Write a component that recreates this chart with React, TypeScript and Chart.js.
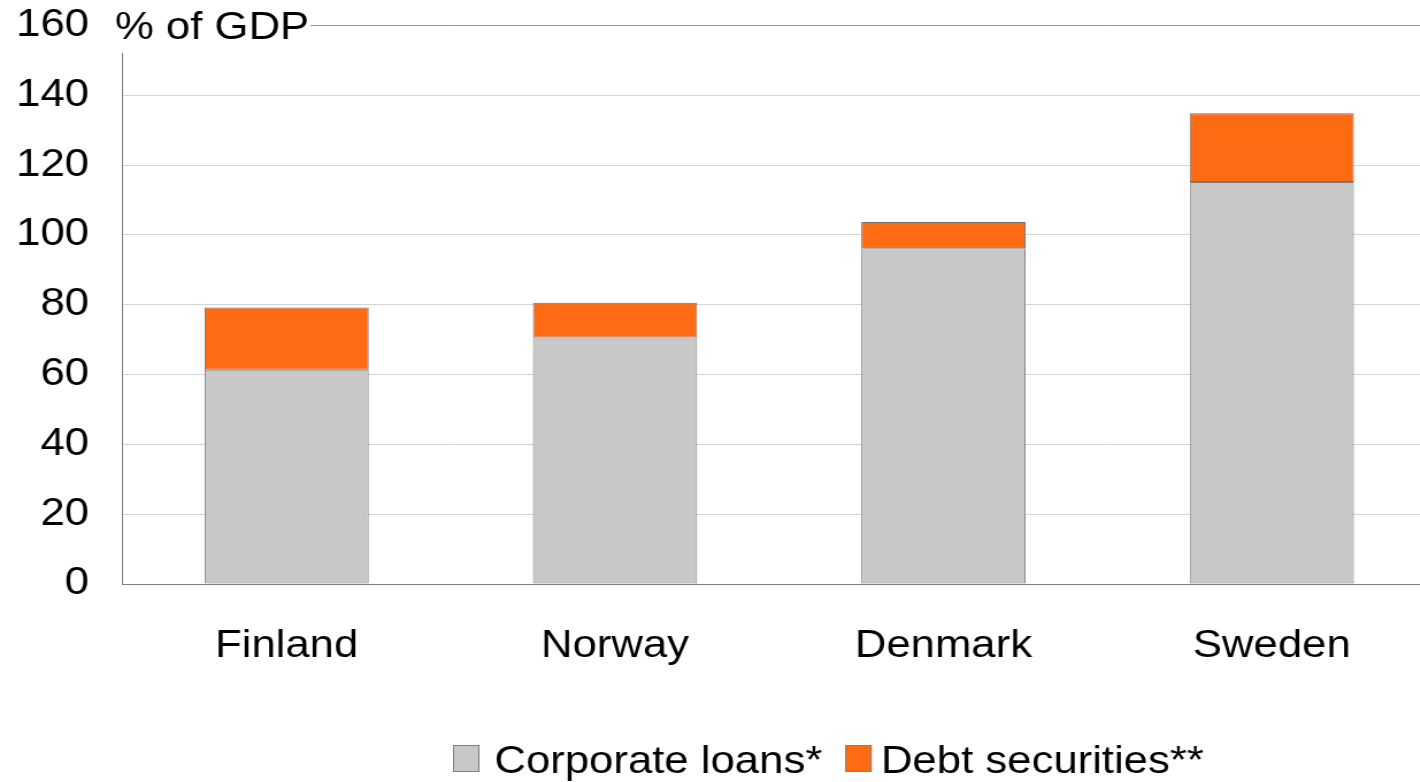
import React, { useEffect, useRef } from "react";
import { Chart, registerables } from "chart.js";

Chart.register(...registerables);

const categories = ["Finland", "Norway", "Denmark", "Sweden"];
const corporateLoans = [61.4, 70.6, 96.2, 115.2];
const debtSecurities = [17.8, 10.0, 7.5, 19.7];
const seriesNames = ["Corporate loans*", "Debt securities**"];
const seriesColors = ["#C8C8C8", "#FF6B12"];
const yTickValues = [0, 20, 40, 60, 80, 100, 120, 140, 160];
const unitLabel = "% of GDP";

const FONT = "'Liberation Sans', Arial, sans-serif";
const FONT_SIZE = 38;
const STRETCH = 1.15;
const CANVAS_W = 1249;
const CANVAS_H = 782;

const overlayPlugin = {
  id: "overlay",
  afterDraw(chart: any) {
    const ctx = chart.ctx;
    const area = chart.chartArea;
    ctx.save();
    // white box behind the unit label (hides top of axis / top gridline)
    ctx.fillStyle = "#ffffff";
    ctx.fillRect(area.left - 12, 0, 270 - (area.left - 12), 53);
    ctx.fillStyle = "#000000";
    ctx.font = `${FONT_SIZE}px ${FONT}`;
    ctx.textBaseline = "alphabetic";
    ctx.textAlign = "left";
    ctx.fillText(unitLabel, 100, 39);

    // legend
    const boxW = 23;
    const boxH = 27;
    const boxY = 745;
    const textY = 773;
    let x = 394;
    chart.data.datasets.forEach((ds: any, i: number) => {
      ctx.fillStyle = ds.backgroundColor;
      ctx.fillRect(x, boxY, boxW, boxH);
      ctx.strokeStyle = "#808080";
      ctx.lineWidth = 1;
      ctx.strokeRect(x + 0.5, boxY + 0.5, boxW - 1, boxH - 1);
      const tx = x + boxW + (i === 0 ? 13 : 8);
      ctx.fillStyle = "#000000";
      ctx.fillText(ds.label, tx, textY);
      x = tx + ctx.measureText(ds.label).width + 20;
    });
    ctx.restore();
  },
};

export default function App() {
  const canvasRef = useRef<HTMLCanvasElement | null>(null);

  useEffect(() => {
    if (!canvasRef.current) return;
    const chart = new Chart(canvasRef.current, {
      type: "bar",
      data: {
        labels: categories,
        datasets: [
          {
            label: seriesNames[0],
            data: corporateLoans,
            backgroundColor: seriesColors[0],
            borderColor: "#808080",
            borderWidth: 1,
            borderSkipped: false,
            barPercentage: 0.5,
            categoryPercentage: 1,
          },
          {
            label: seriesNames[1],
            data: debtSecurities,
            backgroundColor: seriesColors[1],
            borderColor: "#707070",
            borderWidth: 1,
            borderSkipped: false,
            barPercentage: 0.5,
            categoryPercentage: 1,
          },
        ],
      },
      options: {
        animation: false,
        responsive: false,
        devicePixelRatio: 1,
        layout: { padding: { top: 25.6, right: 0, left: 0, bottom: 0 } },
        plugins: {
          legend: { display: false },
          tooltip: { enabled: false },
          title: { display: false },
        },
        scales: {
          x: {
            stacked: true,
            grid: { display: false, drawTicks: false },
            border: { display: true, color: "#808080", width: 1 },
            ticks: {
              color: "#000000",
              font: { family: FONT, size: FONT_SIZE },
              padding: 40,
              maxRotation: 0,
            },
            afterFit(scale: any) {
              scale.height = 198;
              scale.paddingLeft = 0;
              scale.paddingRight = 0;
            },
          },
          y: {
            stacked: true,
            min: 0,
            max: 160,
            afterBuildTicks(scale: any) {
              scale.ticks = yTickValues.map((v) => ({ value: v }));
            },
            grid: {
              drawTicks: false,
              color: (c: any) => (c.tick && c.tick.value === 160 ? "#9a9a9a" : "#d4d4d4"),
              lineWidth: 1,
            },
            border: { display: true, color: "#808080", width: 1 },
            ticks: {
              color: "#000000",
              font: { family: FONT, size: FONT_SIZE },
              padding: 29,
            },
            afterFit(scale: any) {
              scale.width = 106.5;
              scale.paddingTop = 0;
              scale.paddingBottom = 0;
            },
          },
        },
      },
      plugins: [overlayPlugin],
    });
    return () => chart.destroy();
  }, []);

  return (
    <div
      style={{
        position: "fixed",
        left: 0,
        top: 0,
        width: 1420,
        height: 782,
        overflow: "hidden",
        background: "#fff",
      }}
    >
      <canvas
        ref={canvasRef}
        width={CANVAS_W}
        height={CANVAS_H}
        style={{ width: `${CANVAS_W * STRETCH}px`, height: "782px", display: "block" }}
      />
    </div>
  );
}
